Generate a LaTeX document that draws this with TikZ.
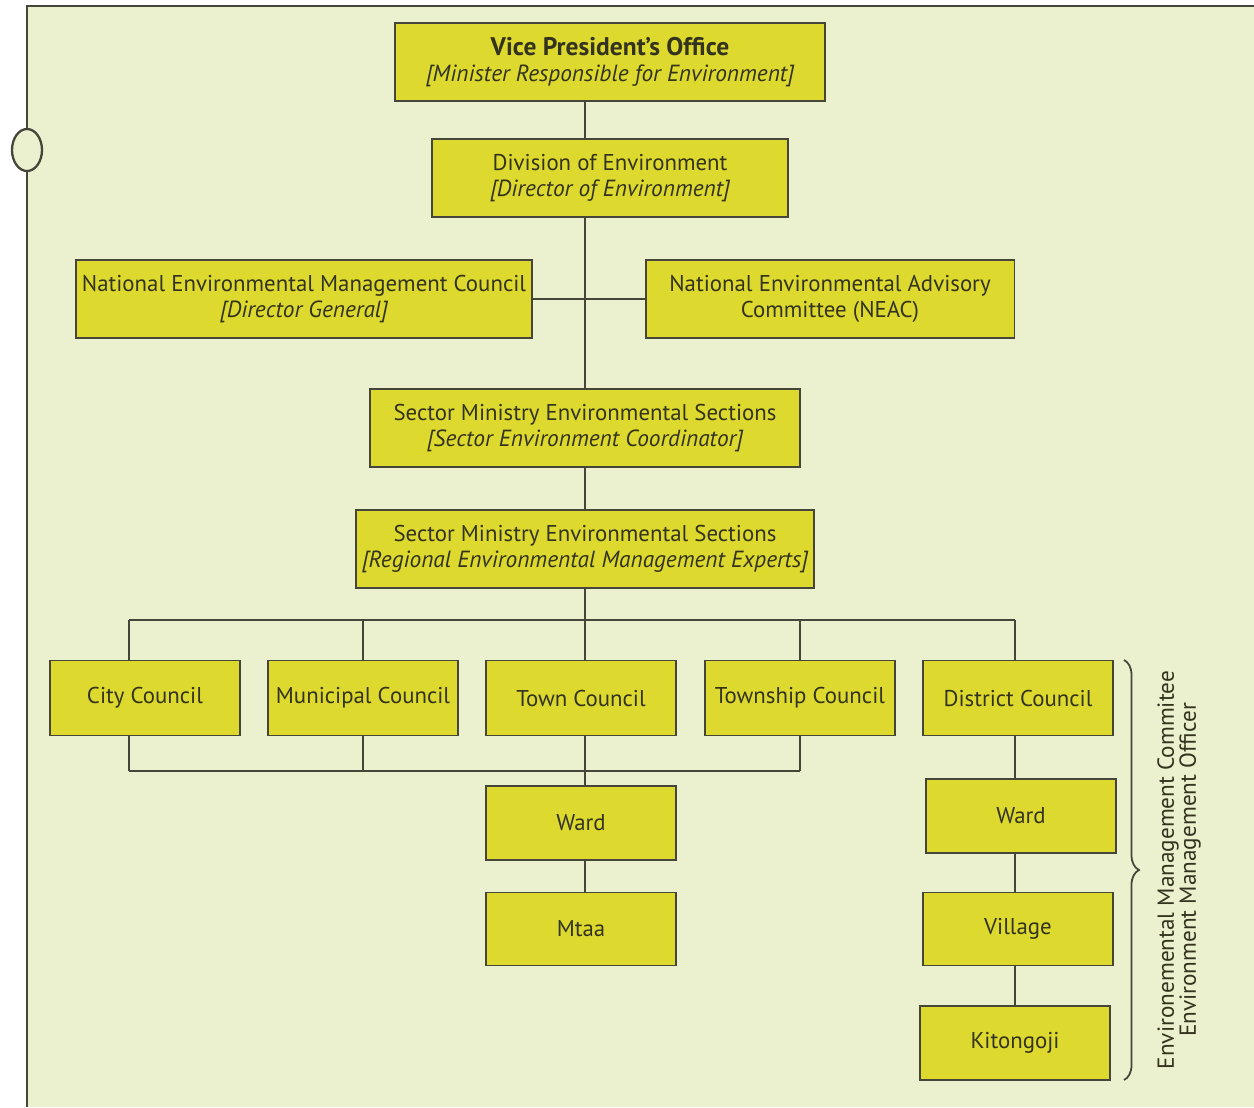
\documentclass[tikz,border=0pt]{standalone}
\usepackage{fontspec}
\setmainfont{PT Sans}
\usetikzlibrary{positioning,calc,decorations.pathreplacing}
\definecolor{paper}{HTML}{EBF0CE}
\definecolor{boxfill}{HTML}{DDD92E}
\definecolor{Ink}{HTML}{33331E}
\definecolor{Wire}{HTML}{45453A}
\newcommand{\rolename}[1]{{\fontsize{13.3}{14.5}\selectfont\itshape[#1]}}

\begin{document}
\begin{tikzpicture}[x=0.02cm,y=-0.02cm,
  unit/.style={draw=Wire,line width=1.1pt,fill=boxfill,text=Ink,align=center,
    inner sep=0pt,minimum height=1.56cm,font=\fontsize{13}{14.5}\selectfont},
  small/.style={unit,minimum width=3.8cm,minimum height=1.5cm},
  wire/.style={draw=Wire,line width=0.8pt},
  side/.style={font=\fontsize{13.2}{12.5}\selectfont,text=Ink,align=center,rotate=90}
]
\useasboundingbox (0,0) rectangle (1254,1107);
% page and frame
\fill[paper] (27,6) rectangle (1254,1107);
\draw[wire,line width=1.1pt] (27,1107) -- (27,6) -- (1254,6);
\draw[wire,line width=1.3pt,fill=paper] (27,150) ellipse [x radius=15,y radius=21];

% national level
\node[unit,minimum width=8.6cm] (vpo) at (610,62)
  {\textbf{\fontsize{14.5}{14.5}\selectfont Vice President’s Office}\\\rolename{Minister Responsible for Environment}};
\node[unit,minimum width=7.12cm] (div) at (610,178)
  {Division of Environment\\\rolename{Director of Environment}};
\node[unit,minimum width=9.12cm] (nemc) at (304,299)
  {National Environmental Management Council\\\rolename{Director General}};
\node[unit,minimum width=7.38cm] (neac) at (830,299)
  {National Environmental Advisory\\Committee (NEAC)};
\node[unit,minimum width=8.6cm] (sec1) at (585,428)
  {Sector Ministry Environmental Sections\\\rolename{Sector Environment Coordinator}};
\node[unit,minimum width=9.16cm] (sec2) at (585,549)
  {Sector Ministry Environmental Sections\\\rolename{Regional Environmental Management Experts}};

% local level
\node[small] (city) at (145,698) {City Council};
\node[small] (muni) at (363,698) {Municipal Council};
\node[small] (town) at (581,698) {Town Council};
\node[small] (twp) at (800,698) {Township Council};
\node[small] (dist) at (1018,698) {District Council};
\node[small,minimum height=1.48cm] (ward) at (581,823) {Ward};
\node[small,minimum height=1.46cm] (mtaa) at (581,929) {Mtaa};
\node[small,minimum height=1.48cm] (ward2) at (1021,816) {Ward};
\node[small,minimum height=1.46cm] (village) at (1018,929) {Village};
\node[small,minimum height=1.48cm] (kito) at (1015,1043) {Kitongoji};

\coordinate (trunk) at (585,620);
\coordinate (lowbus) at (585,771);
\coordinate (rcol) at (1015,0);

% connectors
\draw[wire] (vpo.south -| trunk) -- (div.north -| trunk);
\draw[wire] (div.south -| trunk) -- (sec1.north -| trunk);
\draw[wire] (nemc.east) -- (neac.west);
\draw[wire] (sec1.south -| trunk) -- (sec2.north -| trunk);
\draw[wire] (sec2.south -| trunk) -- (trunk);
\foreach \name/\x in {city/129,muni/363,town/585,twp/800,dist/1015} {
  \coordinate (up-\name) at (\x,620);
  \draw[wire] (up-\name) -- (up-\name |- \name.north);
}
\draw[wire] (up-city) -- (up-dist);
\foreach \name/\x in {city/129,muni/363,town/585,twp/800} {
  \coordinate (lo-\name) at (\x,771);
  \draw[wire] (\name.south -| lo-\name) -- (lo-\name);
}
\draw[wire] (lo-city) -- (lo-twp);
\draw[wire] (lowbus) -- (ward.north -| lowbus);
\draw[wire] (ward.south -| lowbus) -- (mtaa.north -| lowbus);
\draw[wire] (dist.south -| rcol) -- (ward2.north -| rcol);
\draw[wire] (ward2.south -| rcol) -- (village.north -| rcol);
\draw[wire] (village.south -| rcol) -- (kito.north -| rcol);

% brace on the rural column
\coordinate (brtop) at (1124,660);
\coordinate (brbot) at (1124,1080);
\draw[wire,line width=1pt,decorate,decoration={brace,amplitude=0.3cm}] (brtop) -- (brbot);
\node[side] (emc) at (1179,870)
  {Environemental Management Commitee\\Environment Management Officer};
\end{tikzpicture}
\end{document}
